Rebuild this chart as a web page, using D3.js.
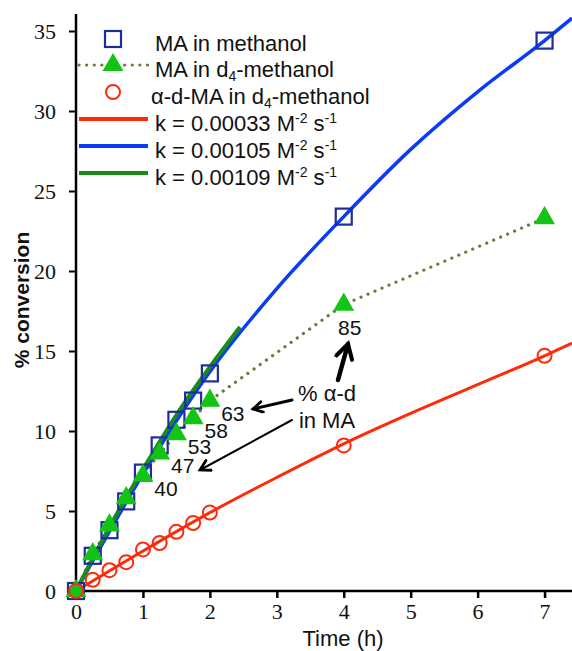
<!DOCTYPE html>
<html>
<head>
<meta charset="utf-8">
<script src="https://cdn.jsdelivr.net/npm/d3@7"></script>
<style>
  body { margin: 0; background: #fff; }
  svg { display: block; }
  .tick text { font-family: "Liberation Serif", "Times New Roman", serif; font-size: 22px; fill: #111; }
  .lbl { font-family: "Liberation Sans", Arial, sans-serif; fill: #111; }
</style>
</head>
<body>
<div id="chart"></div>
<script>
// times (h)
const times = [0, 0.25, 0.5, 0.75, 1, 1.25, 1.5, 1.75, 2, 4, 7];
// % conversion
const maMethanol = [0, 2.2, 3.8, 5.6, 7.4, 9.1, 10.7, 11.9, 13.6, 23.4, 34.4];
const maD4 = [0, 2.3, 4.1, 5.8, 7.2, 8.6, 9.8, 10.8, 11.9, 17.9, 23.3];
const alphaD4 = [0, 0.7, 1.3, 1.8, 2.6, 3.0, 3.7, 4.25, 4.9, 9.1, 14.7];

// fitted curves
const fitRedX = [0, 1, 2, 3, 4, 5, 6, 7, 7.41];
const fitRedY = [0, 2.5, 4.9, 7.1, 9.2, 11.1, 12.9, 14.7, 15.5];
const fitBlueX = [0, 1, 2, 3, 4, 5, 6, 7, 7.41];
const fitBlueY = [0, 7.3, 13.7, 18.9, 23.4, 27.6, 31.2, 34.4, 35.8];
const fitGreenX = [0, 0.5, 1, 1.5, 2, 2.45];
const fitGreenY = [0, 4.0, 7.6, 11.0, 14.0, 16.5];

// % alpha-d in MA labels (index into times)
const dLabelIdx = [4, 5, 6, 7, 8, 9];
const dLabels = ["40", "47", "53", "58", "63", "85"];

const xTicks = [0, 1, 2, 3, 4, 5, 6, 7];
const yTicks = [0, 5, 10, 15, 20, 25, 30, 35];

const W = 572, H = 651;
const svg = d3.select("#chart").append("svg").attr("width", W).attr("height", H);

const x = d3.scaleLinear().domain([0, 7.41]).range([76, 572]);
const y = d3.scaleLinear().domain([0, 36]).range([591, 15]);

// axes
const xAxis = svg.append("g").attr("transform", "translate(0," + y(0) + ")")
  .call(d3.axisBottom(x).tickValues(xTicks).tickSize(7).tickPadding(5).tickFormat(d3.format("d")));
xAxis.select(".domain").attr("d", "M" + x(0) + ",0H" + 572).attr("stroke", "#000").attr("stroke-width", 2.5);
xAxis.selectAll(".tick line").attr("stroke-width", 2.5);

const yAxis = svg.append("g").attr("transform", "translate(" + x(0) + ",0)")
  .call(d3.axisLeft(y).tickValues(yTicks).tickSize(7).tickPadding(13).tickFormat(d3.format("d")));
yAxis.select(".domain").attr("d", "M0," + y(0) + "V" + 14).attr("stroke", "#000").attr("stroke-width", 2.5);
yAxis.selectAll(".tick line").attr("stroke-width", 2);

svg.append("text").attr("class", "lbl")
  .attr("x", 343).attr("y", 646).attr("text-anchor", "middle")
  .attr("font-size", 22).text("Time (h)");
svg.append("text").attr("class", "lbl")
  .attr("transform", "translate(29,300) rotate(-90)").attr("text-anchor", "middle")
  .attr("font-size", 21).attr("font-weight", "bold").text("% conversion");

const line = d3.line().x(d => x(d[0])).y(d => y(d[1]));
const smooth = d3.line().x(d => x(d[0])).y(d => y(d[1])).curve(d3.curveMonotoneX);

// dotted line through d4 points
svg.append("path").datum(times.map((t, i) => [t, maD4[i]]))
  .attr("d", line).attr("fill", "none").attr("stroke", "#6b7b3c")
  .attr("stroke-width", 3.2).attr("stroke-dasharray", "0.1 7.5").attr("stroke-linecap", "round");

// fit lines
svg.append("path").datum(fitRedX.map((t, i) => [t, fitRedY[i]]))
  .attr("d", smooth).attr("fill", "none").attr("stroke", "#ff2a0a").attr("stroke-width", 3);
svg.append("path").datum(fitBlueX.map((t, i) => [t, fitBlueY[i]]))
  .attr("d", smooth).attr("fill", "none").attr("stroke", "#0a3cf5").attr("stroke-width", 3.5);
svg.append("path").datum(fitGreenX.map((t, i) => [t, fitGreenY[i]]))
  .attr("d", smooth).attr("fill", "none").attr("stroke", "#1a8a1a").attr("stroke-width", 4);

const tri = d3.symbol().type(d3.symbolTriangle).size(190);

// squares
svg.append("g").selectAll("rect").data(times).join("rect")
  .attr("x", d => x(d) - 8).attr("y", (d, i) => y(maMethanol[i]) - 8)
  .attr("width", 16).attr("height", 16)
  .attr("fill", "none").attr("stroke", "#1c2e9e").attr("stroke-width", 2.2);
// triangles
svg.append("g").selectAll("path").data(times).join("path")
  .attr("d", tri)
  .attr("transform", (d, i) => "translate(" + x(d) + "," + y(maD4[i]) + ")")
  .attr("fill", "#14c414");
// circles
svg.append("g").selectAll("circle").data(times).join("circle")
  .attr("cx", d => x(d)).attr("cy", (d, i) => y(alphaD4[i])).attr("r", 7)
  .attr("fill", "none").attr("stroke", "#ff2a0a").attr("stroke-width", 2);

// % alpha-d labels
svg.append("g").selectAll("text").data(dLabelIdx).join("text")
  .attr("class", "lbl").attr("font-size", 21)
  .attr("x", (d, i) => x(times[d]) + (i === 5 ? 6 : 23))
  .attr("y", (d, i) => y(maD4[d]) + (i === 5 ? 30 : 20))
  .attr("text-anchor", "middle")
  .text((d, i) => dLabels[i]);

svg.append("text").attr("class", "lbl").attr("font-size", 22)
  .attr("x", 327).attr("y", 401).attr("text-anchor", "middle").text("% α-d");
svg.append("text").attr("class", "lbl").attr("font-size", 22)
  .attr("x", 327).attr("y", 428).attr("text-anchor", "middle").text("in MA");

// arrows
const defs = svg.append("defs");
defs.append("marker").attr("id", "ah").attr("viewBox", "0 0 10 10")
  .attr("refX", 8).attr("refY", 5).attr("markerWidth", 4.5).attr("markerHeight", 4.5)
  .attr("markerUnits", "strokeWidth").attr("orient", "auto")
  .append("path").attr("d", "M1,1 L8,5 L1,9").attr("fill", "none")
  .attr("stroke", "#000").attr("stroke-width", 2).attr("stroke-linecap", "round");
defs.append("marker").attr("id", "ah2").attr("viewBox", "0 0 10 10")
  .attr("refX", 8).attr("refY", 5).attr("markerWidth", 7).attr("markerHeight", 7)
  .attr("markerUnits", "strokeWidth").attr("orient", "auto")
  .append("path").attr("d", "M1,1 L8,5 L1,9").attr("fill", "none")
  .attr("stroke", "#000").attr("stroke-width", 2).attr("stroke-linecap", "round");
const arrows = [
  [[338, 380], [348, 344], 4.5, "ah"],
  [[292, 400], [253, 409], 3, "ah"],
  [[292, 420], [200, 470], 2, "ah2"]
];
arrows.forEach(a => {
  svg.append("line").attr("x1", a[0][0]).attr("y1", a[0][1]).attr("x2", a[1][0]).attr("y2", a[1][1])
    .attr("stroke", "#000").attr("stroke-width", a[2]).attr("stroke-linecap", "round")
    .attr("marker-end", "url(#" + a[3] + ")");
});

// legend
const lg = svg.append("g").attr("class", "lbl").attr("font-size", 22);
lg.append("rect").attr("x", 105).attr("y", 31).attr("width", 16).attr("height", 16)
  .attr("fill", "none").attr("stroke", "#1c2e9e").attr("stroke-width", 2.2);
lg.append("text").attr("x", 155).attr("y", 51).text("MA in methanol");

lg.append("line").attr("x1", 79).attr("x2", 148).attr("y1", 65).attr("y2", 65)
  .attr("stroke", "#6b7b3c").attr("stroke-width", 3.2).attr("stroke-dasharray", "0.1 7.5").attr("stroke-linecap", "round");
lg.append("path").attr("d", tri).attr("transform", "translate(113,65)").attr("fill", "#14c414");
const t2 = lg.append("text").attr("x", 155).attr("y", 77);
t2.append("tspan").text("MA in d");
t2.append("tspan").attr("font-size", 14).attr("dy", 4).text("4");
t2.append("tspan").attr("dy", -4).text("-methanol");

lg.append("circle").attr("cx", 113).attr("cy", 92).attr("r", 7)
  .attr("fill", "none").attr("stroke", "#ff2a0a").attr("stroke-width", 2);
const t3 = lg.append("text").attr("x", 151).attr("y", 104);
t3.append("tspan").text("α-d-MA in d");
t3.append("tspan").attr("font-size", 14).attr("dy", 4).text("4");
t3.append("tspan").attr("dy", -4).text("-methanol");

const fits = [["#ff2a0a", "0.00033", 119], ["#0a3cf5", "0.00105", 146], ["#1a8a1a", "0.00109", 173]];
fits.forEach(f => {
  lg.append("line").attr("x1", 79).attr("x2", 148).attr("y1", f[2]).attr("y2", f[2])
    .attr("stroke", f[0]).attr("stroke-width", 4);
  const t = lg.append("text").attr("x", 155).attr("y", f[2] + 12);
  t.append("tspan").text("k = " + f[1] + " M");
  t.append("tspan").attr("font-size", 14).attr("dy", -8).text("-2");
  t.append("tspan").attr("dy", 8).text(" s");
  t.append("tspan").attr("font-size", 14).attr("dy", -8).text("-1");
});
</script>
</body>
</html>
